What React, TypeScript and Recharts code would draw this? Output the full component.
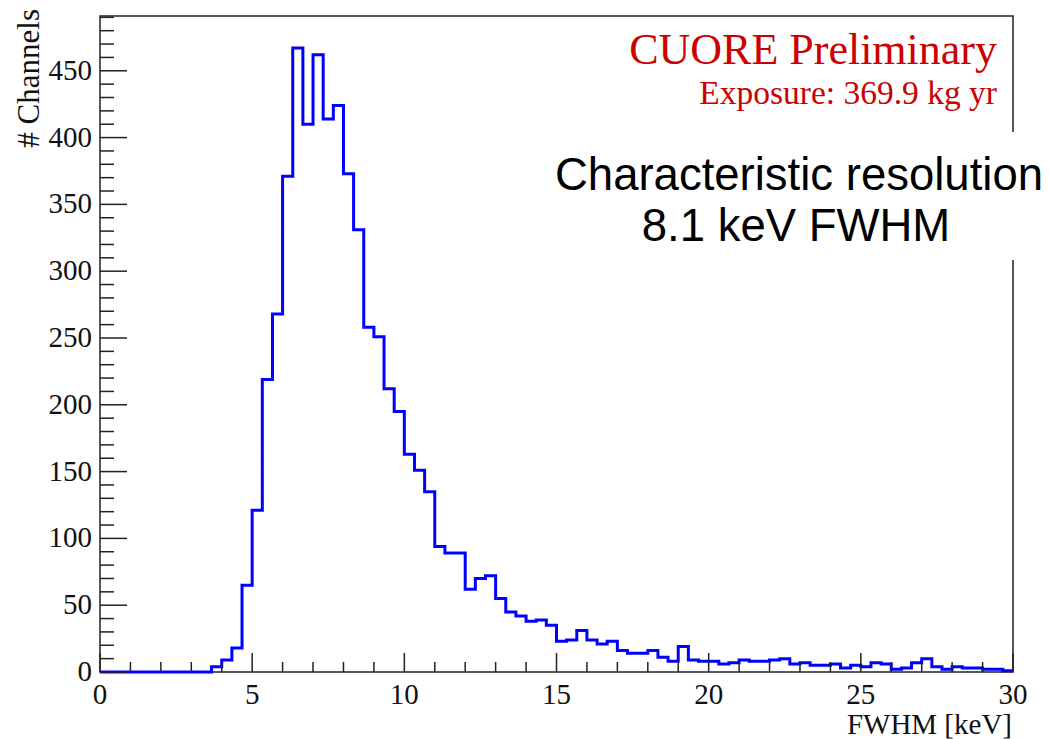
import { LineChart, Line, XAxis, YAxis, ReferenceArea } from "recharts";

// FWHM histogram, bins of 1/3 keV from 0 to 30 keV
const BIN_WIDTH = 1 / 3;
const COUNTS = [
  0, 0, 0, 0, 0, 0, 0, 0, 0, 0, 0, 4, 9, 18, 65, 121, 219, 268, 371, 467,
  410, 462, 414, 424, 373, 331, 258, 251, 212, 195, 163, 151, 135, 94, 89, 89,
  62, 70, 72, 55, 45, 42, 38, 39, 35, 23, 24, 31, 24, 21, 23, 16, 14, 14, 16,
  11, 8, 19, 9, 8, 8, 6, 7, 9, 8, 8, 9, 10, 6, 7, 5, 5, 6, 3, 5, 4, 7, 6, 2,
  3, 7, 10, 4, 2, 4, 3, 3, 2, 2, 1,
];

const X_TICKS = [0, 5, 10, 15, 20, 25, 30];
const Y_TICKS = [0, 50, 100, 150, 200, 250, 300, 350, 400, 450];
const X_MAX = 30;
const Y_MAX = 491;

const data = COUNTS.map((c, i) => ({ x: i * BIN_WIDTH, count: c }));
data.push({ x: X_MAX, count: COUNTS[COUNTS.length - 1] });

// minor ticks: 1 keV on x, 10 channels on y
const xAll: number[] = [];
for (let v = 0; v <= X_MAX; v += 1) xAll.push(v);
const yAll: number[] = [];
for (let v = 0; v <= Y_MAX; v += 10) yAll.push(v);

const SERIF = "'Liberation Serif', 'DejaVu Serif', serif";
const SANS = "'Liberation Sans', Arial, sans-serif";

const XTick = (props: any) => {
  const { x, y, payload } = props;
  const major = X_TICKS.includes(payload.value);
  return (
    <g>
      <line x1={x} y1={y} x2={x} y2={y - (major ? 19 : 10)} stroke="#222" strokeWidth={1.5} />
      {major && (
        <text x={x} y={y + 32} textAnchor="middle" fontFamily={SERIF} fontSize={29} fill="#111">
          {payload.value}
        </text>
      )}
    </g>
  );
};

const YTick = (props: any) => {
  const { x, y, payload } = props;
  const major = Y_TICKS.includes(payload.value);
  return (
    <g>
      <line x1={x} y1={y} x2={x + (major ? 27 : 14)} y2={y} stroke="#222" strokeWidth={1.5} />
      {major && (
        <text x={x - 8} y={y + 9} textAnchor="end" fontFamily={SERIF} fontSize={29} fill="#111">
          {payload.value}
        </text>
      )}
    </g>
  );
};

export default function App() {
  return (
    <div style={{ position: "absolute", left: 0, top: 0, width: 1049, height: 739, background: "#fff" }}>
      <LineChart
        width={1049}
        height={739}
        data={data}
        margin={{ top: 16, right: 36, bottom: 0, left: 0 }}
      >
        <XAxis
          dataKey="x"
          type="number"
          domain={[0, X_MAX]}
          ticks={xAll}
          interval={0}
          height={67}
          axisLine={false}
          tickLine={false}
          tickSize={0}
          tickMargin={0}
          tick={<XTick />}
        />
        <YAxis
          type="number"
          domain={[0, Y_MAX]}
          ticks={yAll}
          interval={0}
          width={100}
          axisLine={false}
          tickLine={false}
          tickSize={0}
          tickMargin={0}
          tick={<YTick />}
        />
        <ReferenceArea
          x1={0}
          x2={X_MAX}
          y1={0}
          y2={Y_MAX}
          fill="none"
          fillOpacity={0}
          stroke="#222"
          strokeWidth={1.5}
        />
        <Line
          dataKey="count"
          type="stepAfter"
          stroke="#0000ff"
          strokeWidth={3}
          dot={false}
          isAnimationActive={false}
        />
      </LineChart>
      <svg
        width={1049}
        height={739}
        style={{ position: "absolute", left: 0, top: 0, pointerEvents: "none" }}
      >
        <rect x={545} y={132} width={504} height={128} fill="#fff" />
        <text x={997} y={64} textAnchor="end" fontFamily={SERIF} fontSize={44} fill="#cc0000">
          CUORE Preliminary
        </text>
        <text x={997} y={104} textAnchor="end" fontFamily={SERIF} fontSize={33.5} fill="#cc0000">
          Exposure: 369.9 kg yr
        </text>
        <text x={799} y={190} textAnchor="middle" fontFamily={SANS} fontSize={45.5} fill="#000">
          Characteristic resolution
        </text>
        <text x={796} y={241} textAnchor="middle" fontFamily={SANS} fontSize={45.5} fill="#000">
          8.1 keV FWHM
        </text>
        <text
          transform="translate(39, 9) rotate(-90)"
          textAnchor="end"
          fontFamily={SERIF}
          fontSize={31}
          fill="#111"
        >
          # Channels
        </text>
        <text x={1012} y={734} textAnchor="end" fontFamily={SERIF} fontSize={29} fill="#111">
          FWHM [keV]
        </text>
      </svg>
    </div>
  );
}
